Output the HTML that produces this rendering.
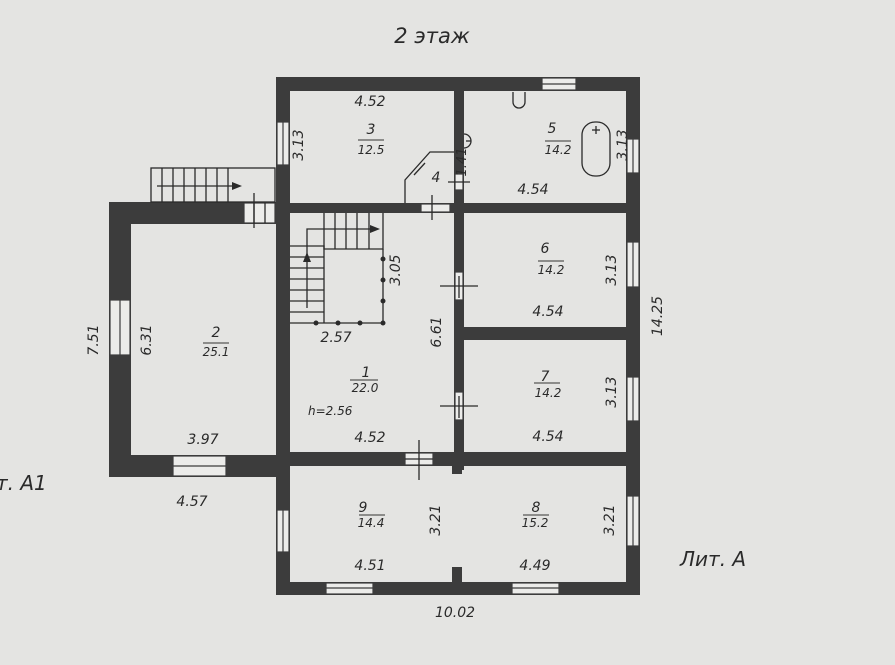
<!DOCTYPE html>
<html><head><meta charset="utf-8"><style>
html,body{margin:0;padding:0;background:#e4e4e2;}
svg{display:block}
text{font-family:"DejaVu Sans","Liberation Sans",sans-serif;font-style:italic;fill:#2a2a2a;}
</style></head><body>
<svg width="895" height="665" viewBox="0 0 895 665" xmlns="http://www.w3.org/2000/svg">
<rect width="895" height="665" fill="#e4e4e2"/>
<g fill="#3c3c3c">
<rect x="276" y="77" width="364" height="14"/>
<rect x="276" y="77" width="14" height="518"/>
<rect x="626" y="77" width="14" height="518"/>
<rect x="276" y="582" width="364" height="13"/>
<rect x="454" y="77" width="10" height="393"/>
<rect x="276" y="203" width="364" height="10"/>
<rect x="464" y="327" width="170" height="13"/>
<rect x="276" y="452" width="364" height="14"/>
<rect x="452" y="466" width="10" height="8"/>
<rect x="452" y="567" width="10" height="16"/>
<rect x="109" y="202" width="167" height="22"/>
<rect x="109" y="202" width="22" height="275"/>
<rect x="109" y="455" width="167" height="22"/>
</g>
<g fill="#ececea" stroke="#3c3c3c" stroke-width="1.2">
<rect x="542" y="78" width="34" height="12"/><line x1="542" y1="84" x2="576" y2="84"/>
<rect x="277" y="122" width="12" height="43"/><line x1="283" y1="122" x2="283" y2="165"/>
<rect x="627" y="139" width="12" height="34"/><line x1="633" y1="139" x2="633" y2="173"/>
<rect x="627" y="242" width="12" height="45"/><line x1="633" y1="242" x2="633" y2="287"/>
<rect x="627" y="377" width="12" height="44"/><line x1="633" y1="377" x2="633" y2="421"/>
<rect x="627" y="496" width="12" height="50"/><line x1="633" y1="496" x2="633" y2="546"/>
<rect x="277" y="510" width="12" height="42"/><line x1="283" y1="510" x2="283" y2="552"/>
<rect x="326" y="583" width="47" height="11"/><line x1="326" y1="588" x2="373" y2="588"/>
<rect x="512" y="583" width="47" height="11"/><line x1="512" y1="588" x2="559" y2="588"/>
<rect x="110" y="300" width="20" height="55"/><line x1="120" y1="300" x2="120" y2="355"/>
<rect x="173" y="456" width="53" height="20"/><line x1="173" y1="466" x2="226" y2="466"/>
<rect x="244" y="203" width="31" height="20"/>
<rect x="455" y="272" width="8" height="28"/>
<rect x="455" y="392" width="8" height="28"/>
<rect x="405" y="453" width="28" height="12"/>
<rect x="421" y="204" width="29" height="8"/>
<rect x="455" y="174" width="8" height="16"/>
</g>
<g stroke="#2a2a2a" stroke-width="1.3" fill="none">
<line x1="254" y1="203" x2="254" y2="223"/><line x1="265" y1="203" x2="265" y2="223"/>
<line x1="254" y1="193" x2="254" y2="228"/>
<line x1="440" y1="286" x2="478" y2="286"/><line x1="459" y1="276" x2="459" y2="298"/>
<line x1="440" y1="406" x2="478" y2="406"/><line x1="459" y1="396" x2="459" y2="418"/>
<line x1="419" y1="440" x2="419" y2="480"/><line x1="405" y1="459" x2="433" y2="459"/>
<line x1="432" y1="195" x2="432" y2="220"/>
<line x1="448" y1="182" x2="470" y2="182"/>
<polyline points="405,203 405,180 430,152 454,152"/>
<line x1="414" y1="175" x2="425" y2="163"/>
<rect x="151" y="168" width="124" height="34"/>
<line x1="162" y1="168" x2="162" y2="202"/><line x1="173" y1="168" x2="173" y2="202"/><line x1="184" y1="168" x2="184" y2="202"/><line x1="195" y1="168" x2="195" y2="202"/><line x1="206" y1="168" x2="206" y2="202"/><line x1="217" y1="168" x2="217" y2="202"/><line x1="228" y1="168" x2="228" y2="202"/>
<line x1="157" y1="186" x2="232" y2="186"/>
<polyline points="324,213 324,249 383,249 383,213"/>
<line x1="335" y1="213" x2="335" y2="249"/><line x1="346" y1="213" x2="346" y2="249"/><line x1="357" y1="213" x2="357" y2="249"/><line x1="369" y1="213" x2="369" y2="249"/>
<polyline points="290,246 324,246 324,323"/>
<line x1="290" y1="257" x2="324" y2="257"/><line x1="290" y1="268" x2="324" y2="268"/><line x1="290" y1="279" x2="324" y2="279"/><line x1="290" y1="290" x2="324" y2="290"/><line x1="290" y1="301" x2="324" y2="301"/><line x1="290" y1="312" x2="324" y2="312"/>
<polyline points="307,308 307,229 370,229"/>
<polyline points="290,323 383,323 383,249"/>
<path d="M513,92 L513,102 A6,6 0 0 0 525,102 L525,92"/>
<rect x="582" y="122" width="28" height="54" rx="13"/>
<line x1="596" y1="126" x2="596" y2="134"/><line x1="592" y1="130" x2="600" y2="130"/>
<path d="M464,134 A7,7 0 0 1 464,148"/><line x1="466" y1="141" x2="471" y2="141"/>
</g>
<g fill="#2a2a2a">
<polygon points="232,182 242,186 232,190"/>
<polygon points="370,225 380,229 370,233"/>
<polygon points="303,262 307,252 311,262"/>
<circle cx="316" cy="323" r="2.5"/><circle cx="338" cy="323" r="2.5"/><circle cx="360" cy="323" r="2.5"/><circle cx="383" cy="323" r="2.5"/>
<circle cx="383" cy="259" r="2.5"/><circle cx="383" cy="280" r="2.5"/><circle cx="383" cy="301" r="2.5"/>
</g>
<g font-size="14">
<text x="432" y="43" font-size="21" text-anchor="middle">2 этаж</text>
<text x="370" y="106" text-anchor="middle">4.52</text>
<text x="371" y="134" text-anchor="middle">3</text>
<line x1="358" y1="140" x2="384" y2="140" stroke="#333"/>
<text x="371" y="154" font-size="12" text-anchor="middle">12.5</text>
<text x="436" y="182" text-anchor="middle">4</text>
<text x="552" y="133" text-anchor="middle">5</text>
<line x1="545" y1="141" x2="571" y2="141" stroke="#333"/>
<text x="558" y="154" font-size="12" text-anchor="middle">14.2</text>
<text x="533" y="194" text-anchor="middle">4.54</text>
<text x="545" y="253" text-anchor="middle">6</text>
<line x1="538" y1="261" x2="564" y2="261" stroke="#333"/>
<text x="551" y="274" font-size="12" text-anchor="middle">14.2</text>
<text x="548" y="316" text-anchor="middle">4.54</text>
<text x="545" y="381" text-anchor="middle">7</text>
<line x1="534" y1="383" x2="560" y2="383" stroke="#333"/>
<text x="548" y="397" font-size="12" text-anchor="middle">14.2</text>
<text x="548" y="441" text-anchor="middle">4.54</text>
<text x="216" y="337" text-anchor="middle">2</text>
<line x1="203" y1="343" x2="229" y2="343" stroke="#333"/>
<text x="216" y="356" font-size="12" text-anchor="middle">25.1</text>
<text x="203" y="444" text-anchor="middle">3.97</text>
<text x="192" y="506" text-anchor="middle">4.57</text>
<text x="366" y="377" text-anchor="middle">1</text>
<line x1="350" y1="380" x2="378" y2="380" stroke="#333"/>
<text x="365" y="392" font-size="12" text-anchor="middle">22.0</text>
<text x="308" y="415" font-size="12">h=2.56</text>
<text x="370" y="442" text-anchor="middle">4.52</text>
<text x="336" y="342" text-anchor="middle">2.57</text>
<text x="363" y="512" text-anchor="middle">9</text>
<line x1="359" y1="515" x2="385" y2="515" stroke="#333"/>
<text x="371" y="527" font-size="12" text-anchor="middle">14.4</text>
<text x="536" y="512" text-anchor="middle">8</text>
<line x1="523" y1="515" x2="549" y2="515" stroke="#333"/>
<text x="535" y="527" font-size="12" text-anchor="middle">15.2</text>
<text x="370" y="570" text-anchor="middle">4.51</text>
<text x="535" y="570" text-anchor="middle">4.49</text>
<text x="455" y="617" text-anchor="middle">10.02</text>
<text x="680" y="566" font-size="20">Лит. А</text>
<text x="-4" y="490" font-size="20">т. А1</text>
<text transform="translate(303,145) rotate(-90)" text-anchor="middle">3.13</text>
<text transform="translate(627,145) rotate(-90)" text-anchor="middle">3.13</text>
<text transform="translate(466,162) rotate(-90)" font-size="13" text-anchor="middle">1.41</text>
<text transform="translate(400,270) rotate(-90)" text-anchor="middle">3.05</text>
<text transform="translate(441,332) rotate(-90)" text-anchor="middle">6.61</text>
<text transform="translate(616,270) rotate(-90)" text-anchor="middle">3.13</text>
<text transform="translate(616,392) rotate(-90)" text-anchor="middle">3.13</text>
<text transform="translate(662,316) rotate(-90)" text-anchor="middle">14.25</text>
<text transform="translate(151,340) rotate(-90)" text-anchor="middle">6.31</text>
<text transform="translate(98,340) rotate(-90)" text-anchor="middle">7.51</text>
<text transform="translate(440,520) rotate(-90)" text-anchor="middle">3.21</text>
<text transform="translate(614,520) rotate(-90)" text-anchor="middle">3.21</text>
</g>
</svg>
</body></html>
